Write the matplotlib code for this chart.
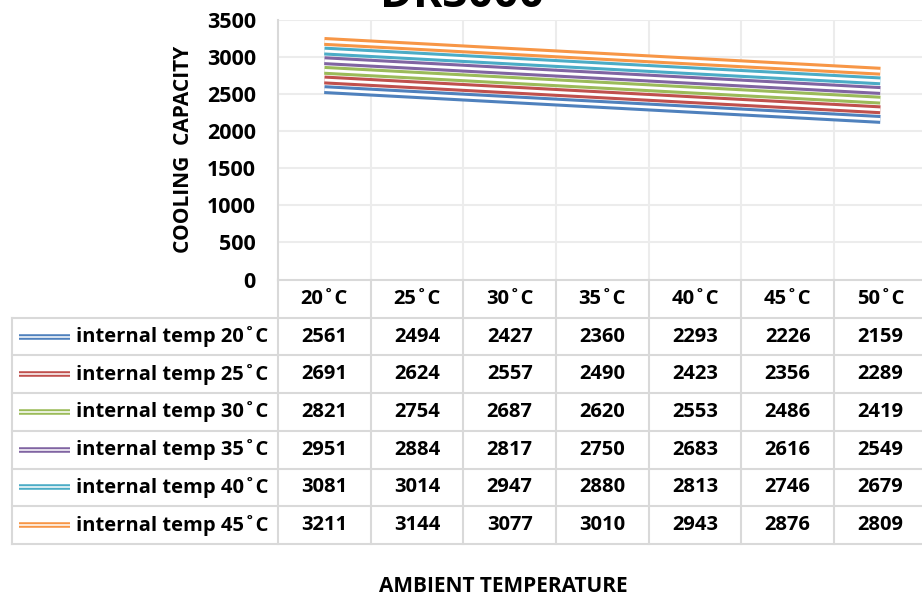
import matplotlib
matplotlib.use("Agg")
import matplotlib.pyplot as plt
from matplotlib.lines import Line2D

plt.rcParams['font.family'] = ['Open Sans', 'DejaVu Sans']
plt.rcParams['font.weight'] = 'bold'

categories = ["20˚C", "25˚C", "30˚C", "35˚C", "40˚C", "45˚C", "50˚C"]
series_names = ["internal temp 20˚C", "internal temp 25˚C", "internal temp 30˚C",
                "internal temp 35˚C", "internal temp 40˚C", "internal temp 45˚C"]
temp20 = [2561, 2494, 2427, 2360, 2293, 2226, 2159]
temp25 = [2691, 2624, 2557, 2490, 2423, 2356, 2289]
temp30 = [2821, 2754, 2687, 2620, 2553, 2486, 2419]
temp35 = [2951, 2884, 2817, 2750, 2683, 2616, 2549]
temp40 = [3081, 3014, 2947, 2880, 2813, 2746, 2679]
temp45 = [3211, 3144, 3077, 3010, 2943, 2876, 2809]
series = [temp20, temp25, temp30, temp35, temp40, temp45]
colors = ["#4F81BD", "#C0504D", "#9BBB59", "#8064A2", "#4BACC6", "#F79646"]
yticks = [0, 500, 1000, 1500, 2000, 2500, 3000, 3500]

W, H = 922, 595
fig = plt.figure(figsize=(W / 100, H / 100), dpi=100)

# plot area in pixels
left, right, top, bottom = 278, 926.7, 20, 279.5
ax = fig.add_axes([left / W, 1 - bottom / H, (right - left) / W, (bottom - top) / H])
grid_c = "#ECECEC"
tbl_c = "#D9D9D9"

x = list(range(len(categories)))
for vals, c in zip(series, colors):
    # double line look: thick coloured stroke with a white core
    ax.plot(x, vals, color=c, lw=6.4, solid_capstyle='butt', zorder=3)
    ax.plot(x, vals, color="white", lw=2.0, solid_capstyle='butt', zorder=3)

ax.set_xlim(-0.5, len(categories) - 0.5)
ax.set_ylim(0, 3500)
ax.set_yticks(yticks)
ax.set_yticklabels([str(v) for v in yticks], fontsize=15.5, fontweight='bold')
ax.set_xticks([])
for v in yticks[1:]:
    ax.axhline(v, color=grid_c, lw=1.5, zorder=1)
for i in range(1, len(categories)):
    ax.axvline(i - 0.5, color=grid_c, lw=1.5, zorder=1)
for s in ["top", "right", "bottom"]:
    ax.spines[s].set_visible(False)
ax.spines["left"].set_color(tbl_c)
ax.spines["left"].set_linewidth(1.5)
ax.tick_params(axis='y', length=0, pad=16)
ax.set_ylabel("COOLING  CAPACITY", fontsize=15, fontweight='bold')
ax.yaxis.set_label_coords(-0.1295, 0.5)

# data table drawn on an overlay in pixel coordinates
tb = fig.add_axes([0, 0, 1, 1])
tb.set_xlim(0, W)
tb.set_ylim(H, 0)
tb.axis("off")
col_w = (right - left) / len(categories)
row_h = 37.7
t_top = 280
tbl_left = 12
n_rows = len(series) + 1
t_bot = t_top + n_rows * row_h

# horizontal borders
tb.plot([left, W + 10], [t_top, t_top], color=tbl_c, lw=1.5)
for r in range(1, n_rows + 1):
    y = t_top + r * row_h
    tb.plot([tbl_left, W + 10], [y, y], color=tbl_c, lw=1.5)
# vertical borders
tb.plot([tbl_left, tbl_left], [t_top + row_h, t_bot], color=tbl_c, lw=1.5)
tb.plot([left, left], [t_top, t_bot], color=tbl_c, lw=1.5)
for i in range(1, len(categories)):
    xx = left + i * col_w
    tb.plot([xx, xx], [t_top, t_bot], color=tbl_c, lw=1.5)

fs = 14.5
for i, cat in enumerate(categories):
    tb.text(left + (i + 0.5) * col_w, t_top + 0.5 * row_h, cat, ha='center', va='center',
            fontsize=fs, fontweight='bold')
for r, (name, vals, c) in enumerate(zip(series_names, series, colors)):
    yc = t_top + (r + 1.5) * row_h
    tb.add_line(Line2D([19, 70], [yc, yc], color=c, lw=4.0, solid_capstyle='butt'))
    tb.add_line(Line2D([19, 70], [yc, yc], color="white", lw=1.1, solid_capstyle='butt'))
    tb.text(76, yc, name, ha='left', va='center', fontsize=fs, fontweight='bold')
    for i, v in enumerate(vals):
        tb.text(left + (i + 0.5) * col_w, yc, str(v), ha='center', va='center',
                fontsize=fs, fontweight='bold')

tb.text(503, 586, "AMBIENT TEMPERATURE", ha='center', va='center', fontsize=15, fontweight='bold')
tb.text(462, 7, "DR3000", ha='center', va='baseline', fontsize=32, fontweight='bold')

fig.savefig("out.png", dpi=100)
